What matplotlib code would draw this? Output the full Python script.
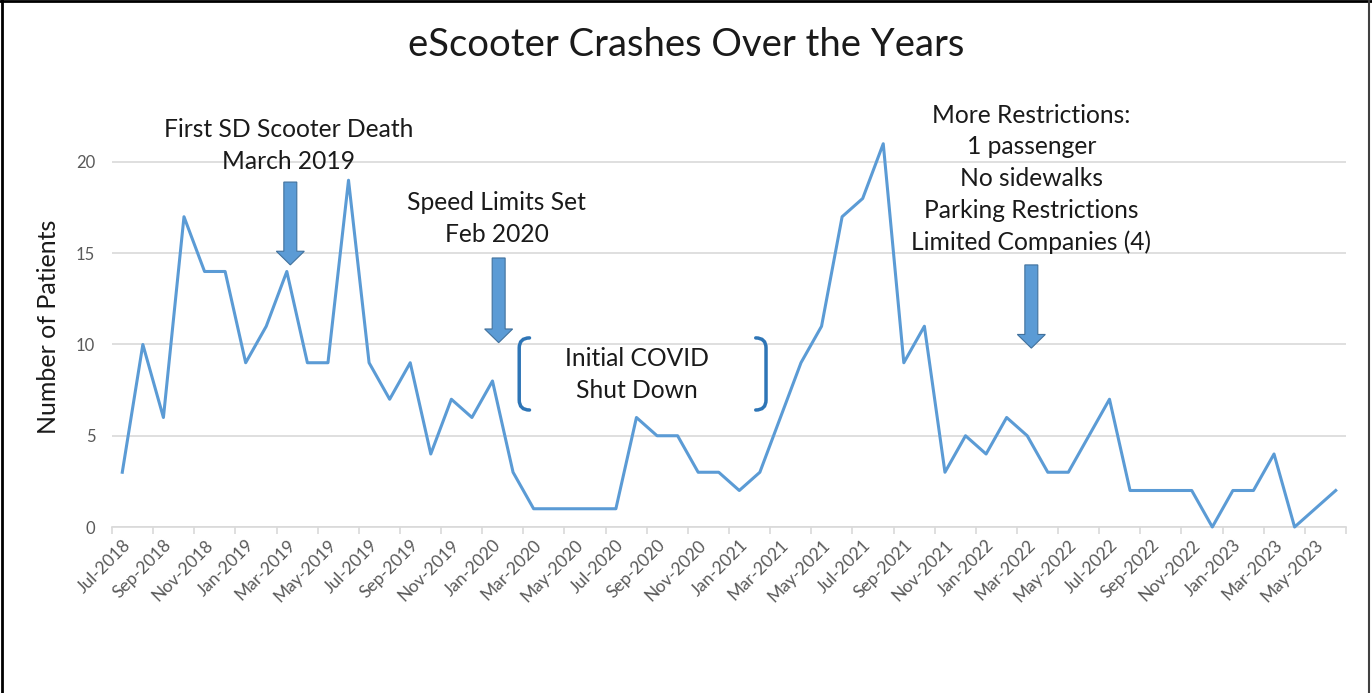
import numpy as np
import pandas as pd
import matplotlib
matplotlib.use("Agg")
import matplotlib.pyplot as plt
from matplotlib.patches import FancyArrow, PathPatch
from matplotlib.path import Path
from matplotlib.lines import Line2D

plt.rcParams['font.family'] = ['Lato', 'DejaVu Sans']

# monthly patients, Jul-2018 .. Jun-2023
months = pd.date_range("2018-07-01", "2023-06-01", freq="MS")
patients = [3, 10, 6, 17, 14, 14, 9, 11, 14, 9, 9, 19,
            9, 7, 9, 4, 7, 6, 8, 3, 1, 1, 1, 1,
            1, 6, 5, 5, 3, 3, 2, 3, 6, 9, 11, 17,
            18, 21, 9, 11, 3, 5, 4, 6, 5, 3, 3, 5,
            7, 2, 2, 2, 2, 0, 2, 2, 4, 0, 1, 2]
month_labels = [m.strftime("%b-%Y") for m in months]

blue = '#5B9BD5'
dark_blue = '#2E75B6'
grid_col = '#D9D9D9'
txt = '#1a1a1a'

fig = plt.figure(figsize=(13.72, 6.93), dpi=100)
ax = fig.add_axes([112/1372, 1-527/693, (1346-112)/1372, (527-134.6)/693])

x = np.arange(len(patients))
ax.plot(x, patients, color=blue, lw=2.2, clip_on=False, zorder=3)

ax.set_xlim(-0.5, len(patients)-0.5)
ax.set_ylim(0, 21.5)
ax.set_yticks([0, 5, 10, 15, 20])
ax.yaxis.grid(True, color=grid_col, lw=1.2)
ax.set_axisbelow(True)
for s in ['top', 'right', 'left']:
    ax.spines[s].set_visible(False)
ax.spines['bottom'].set_color(grid_col)
ax.spines['bottom'].set_linewidth(1.2)
ax.tick_params(axis='y', length=0, labelsize=12, labelcolor='#595959', pad=12)

# labels every other month, ticks at category boundaries
ax.set_xticks(x[::2])
ax.set_xticklabels(month_labels[::2], rotation=45, ha='right',
                   rotation_mode='anchor', fontsize=12.5, color='#595959')
ax.tick_params(axis='x', which='major', length=0, pad=7)
ax.set_xticks(np.arange(-0.5, len(patients), 2), minor=True)
ax.tick_params(axis='x', which='minor', length=5, color=grid_col, width=1.2)

ax.set_ylabel('Number of Patients', fontsize=18, color=txt)
ax.yaxis.set_label_coords(-0.042, 0.51)
fig.text(0.5, 1-45/693, 'eScooter Crashes Over the Years', ha='center',
         va='center', fontsize=27.5, color=txt)

# annotations
ann_fs = 17.7
ls = 1.45
ax.text(8.07, 20.9, 'First SD Scooter Death\nMarch 2019', ha='center',
        va='center', fontsize=ann_fs, color=txt, linespacing=ls, clip_on=False)
ax.text(18.2, 16.9, 'Speed Limits Set\nFeb 2020', ha='center',
        va='center', fontsize=ann_fs, color=txt, linespacing=ls)
ax.text(44.2, 19.07, 'More Restrictions:\n1 passenger\nNo sidewalks\n'
        'Parking Restrictions\nLimited Companies (4)', ha='center',
        va='center', fontsize=ann_fs, color=txt, linespacing=ls, clip_on=False)
ax.text(25.0, 8.36, 'Initial COVID\nShut Down', ha='center',
        va='center', fontsize=ann_fs, color=txt, linespacing=ls)

for ax_x, y0, y1 in [(8.17, 18.9, 14.36), (18.3, 14.74, 10.1), (44.2, 14.36, 9.8)]:
    arr = FancyArrow(ax_x, y0, 0, y1-y0, width=0.63, head_width=1.36,
                     head_length=0.75, length_includes_head=True,
                     facecolor=blue, edgecolor='#41719C', lw=0.8, zorder=4)
    ax.add_patch(arr)

# brackets around the covid text
def bracket(xo, xi, ytop, ybot):
    r = 0.55
    verts = [(xi, ytop), (xo, ytop), (xo, ytop-r), (xo, ybot+r),
             (xo, ybot), (xi, ybot)]
    codes = [Path.MOVETO, Path.CURVE3, Path.CURVE3, Path.LINETO,
             Path.CURVE3, Path.CURVE3]
    ax.add_patch(PathPatch(Path(verts, codes), fill=False,
                           edgecolor=dark_blue, lw=2.5, capstyle='round'))

bracket(19.3, 19.8, 10.36, 6.41)
bracket(31.3, 30.8, 10.36, 6.41)

# chart frame
fig.add_artist(Line2D([0.0015, 0.0015], [0, 1], color='black', lw=2,
                      transform=fig.transFigure))
fig.add_artist(Line2D([0, 1], [0.998, 0.998], color='black', lw=2,
                      transform=fig.transFigure))
fig.add_artist(Line2D([0.998, 0.998], [0, 1], color='#404040', lw=1.5,
                      transform=fig.transFigure))

fig.savefig('out.png', dpi=100)
